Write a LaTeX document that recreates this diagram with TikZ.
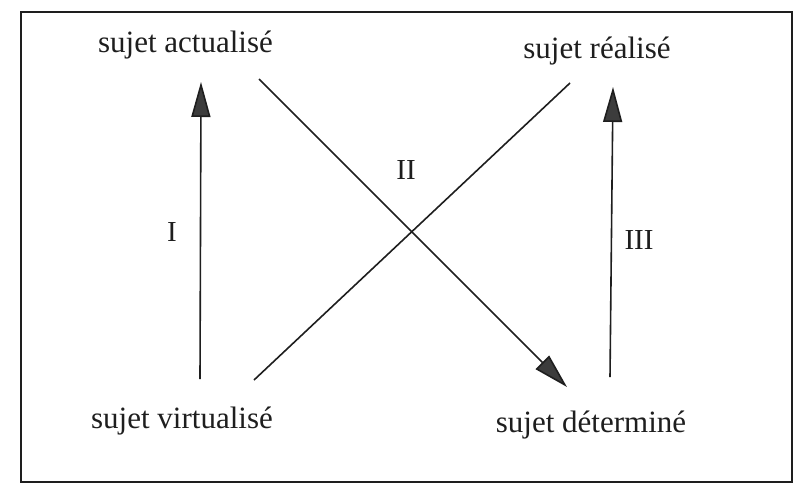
\documentclass[tikz,border=0pt]{standalone}
\usepackage{fontspec}
\setmainfont{Liberation Serif}
\usetikzlibrary{arrows.meta}
\definecolor{ink}{RGB}{30,30,30}
\definecolor{headgray}{RGB}{60,60,60}
\tikzset{
  lbl/.style={font=\fontsize{31}{36}\selectfont, text=ink, anchor=base, inner sep=0pt},
  num/.style={font=\fontsize{29}{34}\selectfont, text=ink, anchor=center, inner sep=0pt},
  conn/.style={draw=ink, line width=1.6pt},
  arr/.style={conn, -{Triangle[length=35pt,width=19pt,fill=headgray]}}
}
\begin{document}
\begin{tikzpicture}[x=1pt,y=-1pt]
\useasboundingbox (0,0) rectangle (799,490);
\fill[white] (0,0) rectangle (799,490);
\draw[draw=ink, line width=1.8pt] (21,12) rectangle (792,482);
% labels
\node[lbl] (act) at (185.5,52) {sujet actualisé};
\node[lbl] (rea) at (597,58) {sujet réalisé};
\node[lbl] (vir) at (182,428) {sujet virtualisé};
\node[lbl] (det) at (591,432) {sujet déterminé};
% arrow end points
\coordinate (aI0) at (200,379);
\coordinate (aI1) at (201,82);
\coordinate (aIII0) at (610,377);
\coordinate (aIII1) at (613,87);
\coordinate (aII0) at (259,79);
\coordinate (aII1) at (567,387);
\coordinate (d0) at (254,380);
\coordinate (d1) at (570,83);
% connectors
\draw[arr] (aI0) -- (aI1);
\draw[arr] (aIII0) -- (aIII1);
\draw[arr] (aII0) -- (aII1);
\draw[conn] (d0) -- (d1);
% roman numerals
\node[num] (nI) at (172,232) {I};
\node[num] (nII) at (406,170) {II};
\node[num] (nIII) at (639,240) {III};
\end{tikzpicture}
\end{document}
